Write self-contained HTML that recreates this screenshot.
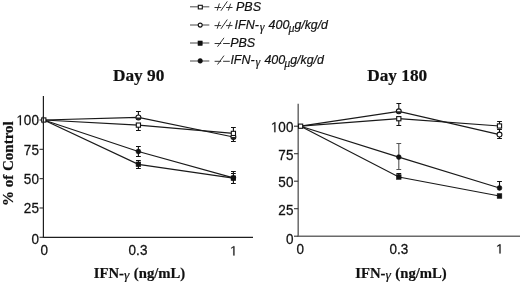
<!DOCTYPE html>
<html><head><meta charset="utf-8"><style>
html,body{margin:0;padding:0;background:#fff;width:520px;height:283px;overflow:hidden}
svg{display:block;will-change:transform}
.ax{stroke:#1e1e1e;stroke-width:1.2;fill:none}
.ax2{stroke:#6a6a6a;stroke-width:1.5;fill:none}
.tk{stroke:#333;stroke-width:1.1;fill:none}
.ln{stroke:#1a1a1a;stroke-width:1.2;fill:none}
.eb{stroke:#111;stroke-width:1.1;fill:none}
.eb2{stroke:#555;stroke-width:1.1;fill:none}
.lgl{stroke:#5a5a5a;stroke-width:1.1;fill:none}
.pm{stroke:#333;stroke-width:1.0;fill:none}
.tl{font-family:"Liberation Sans",sans-serif;font-size:13.5px;fill:#111;stroke:#111;stroke-width:0.25}
#one{fill:#111;stroke:#111;stroke-width:18}
.ttl{font-family:"Liberation Serif",serif;font-weight:bold;font-size:17.3px;fill:#111;stroke:#111;stroke-width:0.2}
.xl{font-family:"Liberation Serif",serif;font-weight:bold;font-size:14px;fill:#111;stroke:#111;stroke-width:0.2}
.gm{font-weight:normal;font-style:italic;font-size:13px}
.lg{font-family:"Liberation Sans",sans-serif;font-style:italic;font-size:12.5px;fill:#111;stroke:#111;stroke-width:0.2}
.lgs{font-family:"Liberation Serif",serif;font-style:italic;font-size:12px;fill:#111;stroke:#111;stroke-width:0.15}
.os{fill:#fff;stroke:#111;stroke-width:1.1}
.fs{fill:#111;stroke:#111;stroke-width:0.6}
</style></head><body>
<svg width="520" height="283" viewBox="0 0 520 283">
<defs><path id="one" d="M515 0V1237L197 1010V1180L530 1409H696V0Z"/></defs>
<line x1="190" y1="6.8" x2="209.3" y2="6.8" class="lgl"/>
<line x1="190" y1="25.0" x2="209.3" y2="25.0" class="lgl"/>
<line x1="190" y1="43.0" x2="209.3" y2="43.0" class="lgl"/>
<line x1="190" y1="61.0" x2="209.3" y2="61.0" class="lgl"/>
<rect x="198.3" y="5.3" width="4" height="3.6" class="os"/>
<circle cx="200.2" cy="25.1" r="2.0" class="os"/>
<rect x="198.0" y="41.0" width="4.2" height="4.4" class="fs"/>
<circle cx="200.2" cy="60.9" r="2.3" class="fs"/>
<path class="pm" transform="translate(0,0)" d="M214.5,7.5H221.2M219.4,3.5L217.2,10.6M220.9,10.8L227.3,1.4M226.1,7.5H232.5M230.6,3.7L228.3,10.6"/>
<path class="pm" transform="translate(0,18.1)" d="M214.5,7.5H221.2M219.4,3.5L217.2,10.6M220.9,10.8L227.3,1.4M226.1,7.5H232.5M230.6,3.7L228.3,10.6"/>
<path class="pm" d="M214.6,43.5H221.2M217.5,46.7L224.0,37.8M223.1,43.5H229.8"/>
<path class="pm" d="M214.6,61.3H221.2M217.5,64.5L224.0,55.599999999999994M223.1,61.3H229.8"/>
<text x="236.0" y="10.6" class="lg">PBS</text>
<text x="230.2" y="46.5" class="lg">PBS</text>
<text x="234.6" y="28.5" class="lg">IFN-</text>
<text x="259.7" y="30.5" class="lgs">γ</text>
<text x="268.6" y="28.5" class="lg">400</text>
<text x="288.4" y="31.5" class="lgs">μ</text>
<text x="294.4" y="28.5" class="lg" textLength="33.6" lengthAdjust="spacingAndGlyphs">g/kg/d</text>
<text x="230.4" y="63.9" class="lg">IFN-</text>
<text x="255.5" y="65.9" class="lgs">γ</text>
<text x="264.4" y="63.9" class="lg">400</text>
<text x="284.2" y="66.9" class="lgs">μ</text>
<text x="290.2" y="63.9" class="lg" textLength="33.6" lengthAdjust="spacingAndGlyphs">g/kg/d</text>
<text transform="translate(13.0,163.6) rotate(-90)" class="ttl" style="font-size:15px" text-anchor="middle">% of Control</text>
<line x1="43.4" y1="96" x2="43.4" y2="237.3" class="ax"/>
<line x1="42.8" y1="237.3" x2="253" y2="237.3" class="ax"/>
<line x1="39.5" y1="120.00" x2="43.4" y2="120.00" class="tk"/>
<g transform="translate(0,125.30) scale(1,1.08) translate(0,-125.30)"><use href="#one" transform="translate(16.38,125.30) scale(0.00659,-0.00659)"/><text x="23.88" y="125.30" class="tl">0</text><text x="31.39" y="125.30" class="tl">0</text></g>
<line x1="39.5" y1="149.32" x2="43.4" y2="149.32" class="tk"/>
<g transform="translate(0,154.62) scale(1,1.08) translate(0,-154.62)"><text x="23.88" y="154.62" class="tl">7</text><text x="31.39" y="154.62" class="tl">5</text></g>
<line x1="39.5" y1="178.65" x2="43.4" y2="178.65" class="tk"/>
<g transform="translate(0,183.95) scale(1,1.08) translate(0,-183.95)"><text x="23.88" y="183.95" class="tl">5</text><text x="31.39" y="183.95" class="tl">0</text></g>
<line x1="39.5" y1="207.98" x2="43.4" y2="207.98" class="tk"/>
<g transform="translate(0,213.28) scale(1,1.08) translate(0,-213.28)"><text x="23.88" y="213.28" class="tl">2</text><text x="31.39" y="213.28" class="tl">5</text></g>
<line x1="39.5" y1="237.30" x2="43.4" y2="237.30" class="tk"/>
<g transform="translate(0,243.80) scale(1,1.08) translate(0,-243.80)"><text x="31.39" y="243.80" class="tl">0</text></g>
<g transform="translate(0,255.50) scale(1,1.08) translate(0,-255.50)"><text x="40.55" y="255.50" class="tl">0</text></g>
<g transform="translate(0,255.50) scale(1,1.08) translate(0,-255.50)"><text x="128.62" y="255.50" class="tl">0</text><text x="136.12" y="255.50" class="tl">.</text><text x="139.88" y="255.50" class="tl">3</text></g>
<use href="#one" transform="translate(229.91,255.50) scale(0.00659,-0.00659)"/>
<polyline points="43.8,120 138.4,125.1 233.4,133.4" class="ln"/>
<polyline points="43.8,120 138.4,117.4 233.4,137.0" class="ln"/>
<polyline points="43.8,120 138.4,151.5 233.4,177.8" class="ln"/>
<polyline points="43.8,120 138.4,164.3 233.4,178.2" class="ln"/>
<path d="M138.4,111.5V117.4M136.0,111.5H140.8" class="eb"/>
<path d="M138.4,125.1V130.5M136.0,130.5H140.8" class="eb"/>
<path d="M233.4,127.5V133M231.0,127.5H235.8" class="eb"/>
<path d="M233.4,136.8V141.5M231.0,141.5H235.8" class="eb"/>
<path d="M138.4,146.5V156.5M136.0,146.5H140.8M136.0,156.5H140.8" class="eb"/>
<path d="M138.4,160.5V168.5M136.0,160.5H140.8M136.0,168.5H140.8" class="eb"/>
<path d="M233.4,171.5V183.5M231.0,171.5H235.8M231.0,173.5H235.8M231.0,183.5H235.8" class="eb"/>
<circle cx="138.4" cy="117.4" r="2.45" class="os"/>
<path d="M135.95000000000002,117.4A2.45,2.45 0 0 0 140.85,117.4Z" fill="#222"/>
<circle cx="233.4" cy="137.0" r="2.45" class="os"/>
<path d="M230.95000000000002,137.0A2.45,2.45 0 0 0 235.85,137.0Z" fill="#222"/>
<rect x="41.70" y="117.90" width="4.2" height="4.2" class="os"/>
<rect x="136.30" y="123.00" width="4.2" height="4.2" class="os"/>
<rect x="231.30" y="131.30" width="4.2" height="4.2" class="os"/>
<circle cx="138.4" cy="151.5" r="2.4" class="fs"/>
<circle cx="233.4" cy="177.8" r="2.4" class="fs"/>
<rect x="136.10" y="162.00" width="4.6" height="4.6" class="fs"/>
<rect x="231.10" y="175.90" width="4.6" height="4.6" class="fs"/>
<line x1="43.4" y1="116.0" x2="43.4" y2="124.0" class="ax"/>
<text x="138.6" y="81.0" class="ttl" text-anchor="middle">Day 90</text>
<g transform="translate(139.5,278.0) scale(1.05,0.97)"><text x="0" y="0" class="xl" text-anchor="middle">IFN-<tspan class="gm" dy="0.8">γ</tspan><tspan dy="-0.8" dx="0.8"> (ng/mL)</tspan></text></g>
<line x1="298.2" y1="103.8" x2="298.2" y2="236.2" class="ax2"/>
<line x1="297.59999999999997" y1="236.2" x2="520" y2="236.2" class="ax2"/>
<line x1="294.0" y1="126.20" x2="298.2" y2="126.20" class="tk"/>
<g transform="translate(0,132.20) scale(1,1.08) translate(0,-132.20)"><use href="#one" transform="translate(270.88,132.20) scale(0.00659,-0.00659)"/><text x="278.38" y="132.20" class="tl">0</text><text x="285.89" y="132.20" class="tl">0</text></g>
<line x1="294.0" y1="153.70" x2="298.2" y2="153.70" class="tk"/>
<g transform="translate(0,159.70) scale(1,1.08) translate(0,-159.70)"><text x="278.38" y="159.70" class="tl">7</text><text x="285.89" y="159.70" class="tl">5</text></g>
<line x1="294.0" y1="181.20" x2="298.2" y2="181.20" class="tk"/>
<g transform="translate(0,187.20) scale(1,1.08) translate(0,-187.20)"><text x="278.38" y="187.20" class="tl">5</text><text x="285.89" y="187.20" class="tl">0</text></g>
<line x1="294.0" y1="208.70" x2="298.2" y2="208.70" class="tk"/>
<g transform="translate(0,214.70) scale(1,1.08) translate(0,-214.70)"><text x="278.38" y="214.70" class="tl">2</text><text x="285.89" y="214.70" class="tl">5</text></g>
<line x1="294.0" y1="236.20" x2="298.2" y2="236.20" class="tk"/>
<g transform="translate(0,243.80) scale(1,1.08) translate(0,-243.80)"><text x="285.89" y="243.80" class="tl">0</text></g>
<g transform="translate(0,253.60) scale(1,1.08) translate(0,-253.60)"><text x="296.55" y="253.60" class="tl">0</text></g>
<g transform="translate(0,253.60) scale(1,1.08) translate(0,-253.60)"><text x="389.42" y="253.60" class="tl">0</text><text x="396.92" y="253.60" class="tl">.</text><text x="400.68" y="253.60" class="tl">3</text></g>
<use href="#one" transform="translate(496.01,253.60) scale(0.00659,-0.00659)"/>
<polyline points="300.6,126.2 398.8,118.7 499.5,126.0" class="ln"/>
<polyline points="300.6,126.2 398.8,111.3 499.5,134.6" class="ln"/>
<polyline points="300.6,126.2 398.8,157.1 499.5,188" class="ln"/>
<polyline points="300.6,126.2 398.8,177 499.5,196" class="ln"/>
<path d="M398.8,103.5V111.3M396.40000000000003,103.5H401.2" class="eb"/>
<path d="M398.8,118.7V125.5M396.40000000000003,125.5H401.2" class="eb"/>
<path d="M499.5,121.5V126M497.1,121.5H501.9" class="eb"/>
<path d="M499.5,130V138.5M497.1,129.5H501.9M497.1,138.5H501.9" class="eb"/>
<path d="M398.8,143.5V169.5M396.40000000000003,143.5H401.2M396.40000000000003,169.5H401.2" class="eb2"/>
<path d="M398.8,173.5V177M396.40000000000003,173.5H401.2" class="eb"/>
<path d="M499.5,181.5V188M497.1,181.5H501.9" class="eb"/>
<circle cx="398.8" cy="111.3" r="2.45" class="os"/>
<path d="M396.35,111.3A2.45,2.45 0 0 0 401.25,111.3Z" fill="#222"/>
<circle cx="499.5" cy="134.6" r="2.45" class="os"/>
<rect x="298.50" y="124.10" width="4.2" height="4.2" class="os"/>
<rect x="396.70" y="116.60" width="4.2" height="4.2" class="os"/>
<rect x="497.40" y="123.90" width="4.2" height="4.2" class="os"/>
<circle cx="398.8" cy="157.1" r="2.4" class="fs"/>
<circle cx="499.5" cy="188" r="2.4" class="fs"/>
<rect x="396.50" y="174.70" width="4.6" height="4.6" class="fs"/>
<rect x="497.20" y="193.70" width="4.6" height="4.6" class="fs"/>
<text x="397.2" y="81.0" class="ttl" text-anchor="middle">Day 180</text>
<g transform="translate(401.0,278.0) scale(1.05,0.97)"><text x="0" y="0" class="xl" text-anchor="middle">IFN-<tspan class="gm" dy="0.8">γ</tspan><tspan dy="-0.8" dx="0.8"> (ng/mL)</tspan></text></g>
</svg>
</body></html>
